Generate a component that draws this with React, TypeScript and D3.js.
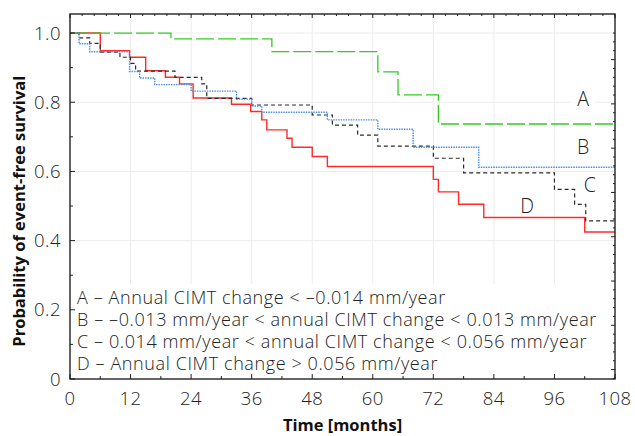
import { useEffect, useRef } from "react";
import * as d3 from "d3";

// Kaplan-Meier steps (months, survival)
const timesA = [0, 20, 40, 61, 65, 73, 108];
const survA = [1, 0.983, 0.946, 0.888, 0.821, 0.737, 0.737];

const timesB = [0, 1.8, 3.9, 11.8, 13.8, 16.8, 24, 33, 36, 38, 51, 61, 68, 81, 108];
const survB = [1, 0.969, 0.946, 0.889, 0.87, 0.851, 0.832, 0.809, 0.789, 0.771, 0.749, 0.722, 0.67, 0.612, 0.612];

const timesC = [0, 1.8, 3.9, 6, 9.9, 12, 13, 20.8, 26.1, 27.1, 36, 48, 52, 57, 61, 72, 78, 96, 100, 102.2, 108];
const survC = [1, 0.986, 0.97, 0.945, 0.93, 0.912, 0.89, 0.872, 0.853, 0.811, 0.792, 0.763, 0.734, 0.705, 0.673, 0.638, 0.596, 0.548, 0.505, 0.457, 0.457];

const timesD = [0, 6, 11.8, 15, 18.9, 21.7, 24.4, 32, 35.8, 38, 39, 43, 44, 48, 51, 72, 73, 77, 82, 102, 108];
const survD = [1, 0.949, 0.93, 0.891, 0.872, 0.853, 0.812, 0.794, 0.773, 0.749, 0.72, 0.696, 0.67, 0.643, 0.614, 0.577, 0.541, 0.505, 0.467, 0.425, 0.425];

const xTicks = [0, 12, 24, 36, 48, 60, 72, 84, 96, 108];
const yTicks = [0, 0.2, 0.4, 0.6, 0.8, 1.0];

const legendLines = [
  "A – Annual CIMT change < –0.014 mm/year",
  "B – –0.013 mm/year < annual CIMT change < 0.013 mm/year",
  "C – 0.014 mm/year < annual CIMT change < 0.056 mm/year",
  "D – Annual CIMT change > 0.056 mm/year",
];

const curveLabels = ["A", "B", "C", "D"];
const labelT = [101.7, 101.7, 103, 90.6];
const labelS = [0.809, 0.67, 0.561, 0.5];

const FONT = "'Open Sans', 'Noto Sans', sans-serif";

export default function App() {
  const svgRef = useRef<SVGSVGElement>(null);

  useEffect(() => {
    document.body.style.margin = "0";
    const W = 635, H = 436;
    const margin = { top: 14, right: 20, bottom: 57, left: 70 };
    const width = W - margin.left - margin.right;
    const height = H - margin.top - margin.bottom;

    const svg = d3.select(svgRef.current).attr("width", W).attr("height", H);
    svg.selectAll("*").remove();

    const g = svg.append("g").attr("transform", `translate(${margin.left},${margin.top})`);

    const x = d3.scaleLinear().domain([0, 108]).range([0, width]);
    const y = d3.scaleLinear().domain([0, 1.055]).range([height, 0]);

    const light = (sel: any, size = 18.5, ls = 0.45) =>
      sel.attr("font-family", FONT).attr("font-weight", 300)
        .attr("font-size", size).attr("letter-spacing", ls).attr("fill", "#222");

    // grid
    g.selectAll(".vgrid")
      .data(xTicks.slice(1, -1))
      .join("line")
      .attr("x1", d => x(d)).attr("x2", d => x(d))
      .attr("y1", 0).attr("y2", height)
      .attr("stroke", "#ececec").attr("stroke-width", 1);
    g.selectAll(".hgrid")
      .data(yTicks.slice(1))
      .join("line")
      .attr("x1", 0).attr("x2", width)
      .attr("y1", d => y(d)).attr("y2", d => y(d))
      .attr("stroke", "#ececec").attr("stroke-width", 1);

    const series = [
      { t: timesD, s: survD, color: "#ff2a2a", dash: null, w: 1.4 },
      { t: timesC, s: survC, color: "#2a2a2a", dash: "4,3", w: 1.2 },
      { t: timesB, s: survB, color: "#4a8fe6", dash: "1.5,1", w: 1.4 },
      { t: timesA, s: survA, color: "#33cc22", dash: "18,4", w: 1.3 },
    ];

    const line = d3.line<[number, number]>()
      .x(d => x(d[0]))
      .y(d => y(d[1]))
      .curve(d3.curveStepAfter);

    series.forEach(sr => {
      const pts: [number, number][] = sr.t.map((t, i) => [t, sr.s[i]]);
      g.append("path")
        .attr("d", line(pts))
        .attr("fill", "none")
        .attr("stroke", sr.color)
        .attr("stroke-width", sr.w)
        .attr("stroke-dasharray", sr.dash);
    });

    // curve labels
    curveLabels.forEach((lab, i) => {
      const cx = x(labelT[i]), cy = y(labelS[i]);
      g.append("rect")
        .attr("x", cx - 12).attr("y", cy - 10)
        .attr("width", 24).attr("height", 20)
        .attr("fill", "#fff");
      light(g.append("text"), 19.5, 0)
        .attr("x", cx).attr("y", cy + 7)
        .attr("text-anchor", "middle")
        .text(lab);
    });

    // legend box
    g.append("rect")
      .attr("x", 0).attr("y", y(0.275))
      .attr("width", width).attr("height", height - y(0.275))
      .attr("fill", "#fff");
    legendLines.forEach((txt, i) => {
      light(g.append("text"), 18, 0.6)
        .attr("x", 7).attr("y", y(0.275) + 20 + i * 22)
        .text(txt);
    });

    // ticks (inward)
    const tickG = g.append("g").attr("stroke", "#222").attr("stroke-width", 1);
    d3.range(0, 108.01, 6).forEach(t => {
      const len = t % 12 === 0 ? 5 : 3;
      tickG.append("line").attr("x1", x(t)).attr("x2", x(t)).attr("y1", height).attr("y2", height - len);
    });
    d3.range(0, 108.01, 2.4).forEach((t, k) => {
      const len = k % 5 === 0 ? 4 : 2;
      tickG.append("line").attr("x1", x(t)).attr("x2", x(t)).attr("y1", 0).attr("y2", len);
    });
    d3.range(0, 1.0501, 0.1).forEach((v, k) => {
      const len = k % 2 === 0 ? 5 : 3;
      tickG.append("line").attr("x1", 0).attr("x2", len).attr("y1", y(v)).attr("y2", y(v));
    });
    d3.range(0, 40).forEach(k => {
      const v = 1 - k * 0.0256;
      if (v < 0) return;
      const len = (k + 2) % 5 === 0 ? 4 : 2;
      tickG.append("line").attr("x1", width).attr("x2", width - len).attr("y1", y(v)).attr("y2", y(v));
    });

    // frame
    g.append("rect")
      .attr("x", 0).attr("y", 0).attr("width", width).attr("height", height)
      .attr("fill", "none").attr("stroke", "#111").attr("stroke-width", 1.3);

    // tick labels
    xTicks.forEach(d => {
      light(g.append("text"))
        .attr("x", x(d)).attr("y", height + 26)
        .attr("text-anchor", "middle")
        .text(d);
    });
    yTicks.forEach(d => {
      light(g.append("text"))
        .attr("x", -9).attr("y", y(d) + 6.5)
        .attr("text-anchor", "end")
        .text(d === 0 ? "0" : d3.format(".1f")(d));
    });

    // axis titles
    svg.append("text")
      .attr("x", margin.left + width / 2).attr("y", H - 5)
      .attr("text-anchor", "middle")
      .attr("font-family", FONT).attr("font-weight", 700)
      .attr("font-size", 16.5).attr("fill", "#111")
      .text("Time [months]");
    svg.append("text")
      .attr("transform", `translate(25,${margin.top + y(0.485)}) rotate(-90)`)
      .attr("text-anchor", "middle")
      .attr("font-family", FONT).attr("font-weight", 700)
      .attr("font-size", 16.5).attr("fill", "#111")
      .text("Probability of event-free survival");
  }, []);

  return <svg ref={svgRef}></svg>;
}
